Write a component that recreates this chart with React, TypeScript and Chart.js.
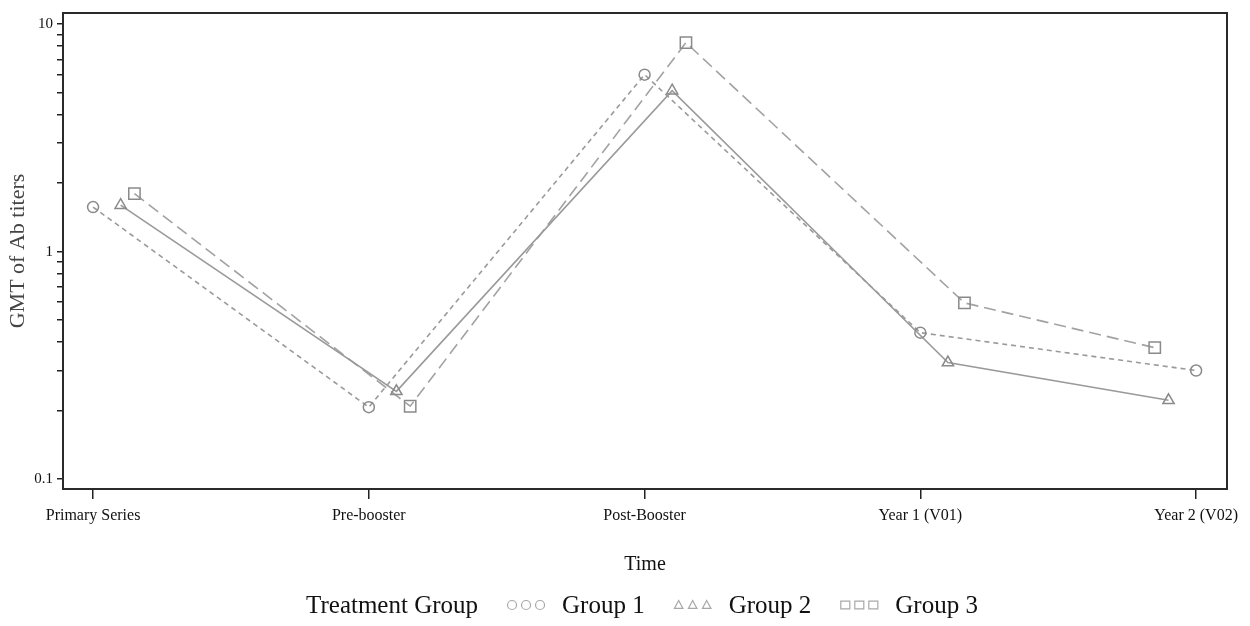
import React, { useEffect, useRef } from 'react';
import { Chart, registerables } from 'chart.js';

Chart.register(...registerables);

// ---- Data ----
const categories = ['Primary Series', 'Pre-booster', 'Post-Booster', 'Year 1 (V01)', 'Year 2 (V02)'];
const groupLabels = ['Group 1', 'Group 2', 'Group 3'];
const group1 = [1.57, 0.207, 6.0, 0.44, 0.30];
const group2 = [1.6, 0.243, 5.1, 0.325, 0.222];
const group3 = [1.8, 0.209, 8.3, 0.595, 0.378];
// horizontal jitter (in category units) used by the original plot to separate the groups
const group1Jitter = [0, 0, 0, 0, 0];
const group2Jitter = [0.1, 0.1, 0.1, 0.1, -0.1];
const group3Jitter = [0.15, 0.15, 0.15, 0.16, -0.15];
const yTickValues = [0.1, 0.2, 0.3, 0.4, 0.5, 0.6, 0.7, 0.8, 0.9, 1, 2, 3, 4, 5, 6, 7, 8, 9, 10];
const yLabelValues = [0.1, 1, 10];
const legendTitle = 'Treatment Group';

const SERIF = '"Liberation Serif", "DejaVu Serif", serif';

const toPoints = (vals: number[], jit: number[]) =>
  vals.map((v, i) => ({ x: i + jit[i], y: v }));

const framePlugin = {
  id: 'frame',
  afterDraw(chart: any) {
    const { ctx, chartArea: a } = chart;
    ctx.save();
    ctx.strokeStyle = '#2a2a2a';
    ctx.lineWidth = 2;
    ctx.strokeRect(a.left, a.top, a.right - a.left, a.bottom - a.top);
    ctx.restore();
  },
};

function drawMarker(ctx: CanvasRenderingContext2D, style: string, x: number, y: number, r: number) {
  ctx.beginPath();
  if (style === 'circle') {
    ctx.arc(x, y, r, 0, Math.PI * 2);
  } else if (style === 'triangle') {
    ctx.moveTo(x, y - r);
    ctx.lineTo(x + r * 0.95, y + r * 0.75);
    ctx.lineTo(x - r * 0.95, y + r * 0.75);
    ctx.closePath();
  } else {
    ctx.rect(x - r, y - r * 0.85, 2 * r, 1.7 * r);
  }
  ctx.stroke();
}

const legendPlugin = {
  id: 'customLegend',
  afterDraw(chart: any) {
    const { ctx } = chart;
    ctx.save();
    ctx.font = '25px ' + SERIF;
    ctx.fillStyle = '#111';
    ctx.textBaseline = 'alphabetic';
    const baseY = 613;
    const markY = 605;
    const markersW = 38;
    const titleW = ctx.measureText(legendTitle).width;
    const ds = chart.data.datasets;
    const labelWs = ds.map((d: any) => ctx.measureText(d.label).width);
    let total = titleW;
    labelWs.forEach((w: number) => { total += 29 + markersW + 17 + w; });
    let x = 642 - total / 2;
    ctx.fillText(legendTitle, x, baseY);
    x += titleW;
    ds.forEach((d: any, i: number) => {
      x += 29;
      ctx.strokeStyle = '#a8a8a8';
      ctx.lineWidth = 1.2;
      for (let k = 0; k < 3; k++) {
        drawMarker(ctx, d.pointStyle, x + 5 + k * 14, markY, 4.5);
      }
      x += markersW + 17;
      ctx.fillStyle = '#111';
      ctx.fillText(d.label, x, baseY);
      x += labelWs[i];
    });
    ctx.restore();
  },
};

export default function App() {
  const ref = useRef<HTMLCanvasElement>(null);
  useEffect(() => {
    document.body.style.margin = '0';
    const canvas = ref.current;
    if (!canvas) return;
    const lineColor = '#9a9a9a';
    const markColor = '#8a8a8a';
    const chart = new Chart(canvas, {
      type: 'line',
      data: {
        datasets: [
          {
            label: groupLabels[0],
            data: toPoints(group1, group1Jitter),
            borderColor: lineColor,
            borderWidth: 1.6,
            borderDash: [5, 4],
            pointStyle: 'circle',
            pointRadius: 5.5,
            pointBorderColor: markColor,
            pointBackgroundColor: 'rgba(255,255,255,0)',
            pointBorderWidth: 1.5,
            tension: 0,
          },
          {
            label: groupLabels[1],
            data: toPoints(group2, group2Jitter),
            borderColor: lineColor,
            borderWidth: 1.6,
            pointStyle: 'triangle',
            pointRadius: 6.5,
            pointBorderColor: markColor,
            pointBackgroundColor: 'rgba(255,255,255,0)',
            pointBorderWidth: 1.5,
            tension: 0,
          },
          {
            label: groupLabels[2],
            data: toPoints(group3, group3Jitter),
            borderColor: '#a2a2a2',
            borderWidth: 1.6,
            borderDash: [12, 6],
            pointStyle: 'rect',
            pointRadius: 8,
            pointBorderColor: markColor,
            pointBackgroundColor: 'rgba(255,255,255,0)',
            pointBorderWidth: 1.5,
            tension: 0,
          },
        ],
      },
      options: {
        responsive: false,
        animation: false,
        devicePixelRatio: 1,
        layout: { padding: { top: 12, right: 23, bottom: 47, left: 0 } },
        plugins: {
          legend: { display: false },
          tooltip: { enabled: false },
        },
        scales: {
          x: {
            type: 'linear',
            min: -0.109,
            max: 4.112,
            afterBuildTicks: (scale: any) => {
              scale.ticks = categories.map((_, i) => ({ value: i }));
            },
            afterFit: (scale: any) => {
              scale.height = 90;
            },
            border: { display: false },
            grid: {
              drawOnChartArea: false,
              drawTicks: true,
              tickLength: 10,
              color: '#222',
              lineWidth: 1.5,
            },
            ticks: {
              autoSkip: false,
              maxRotation: 0,
              padding: 7,
              color: '#111',
              font: { family: SERIF, size: 16 },
              callback: (v: any) => categories[Math.round(Number(v))] ?? '',
            },
            title: {
              display: true,
              text: 'Time',
              color: '#111',
              font: { family: SERIF, size: 20 },
              padding: { top: 0, bottom: 2 },
            },
          },
          y: {
            type: 'logarithmic',
            min: 0.0904,
            max: 11.2,
            afterBuildTicks: (scale: any) => {
              scale.ticks = yTickValues.map((v) => ({ value: v, major: yLabelValues.includes(v) }));
            },
            afterFit: (scale: any) => {
              scale.width = 63;
            },
            border: { display: false },
            grid: {
              drawOnChartArea: false,
              drawTicks: true,
              tickLength: 6,
              color: '#222',
              lineWidth: 1.5,
            },
            ticks: {
              autoSkip: false,
              padding: 4,
              color: '#111',
              font: { family: SERIF, size: 15 },
              callback: (v: any) => {
                const n = Number(v);
                return yLabelValues.some((l) => Math.abs(l - n) < 1e-9) ? String(n) : '';
              },
            },
            title: {
              display: true,
              text: 'GMT of Ab titers',
              color: '#444',
              font: { family: SERIF, size: 22 },
              padding: { top: 5, bottom: 0 },
            },
          },
        },
      },
      plugins: [framePlugin, legendPlugin],
    } as any);
    return () => chart.destroy();
  }, []);
  return (
    <div style={{ width: 1250, height: 626 }}>
      <canvas ref={ref} width={1250} height={626} style={{ display: 'block' }} />
    </div>
  );
}
